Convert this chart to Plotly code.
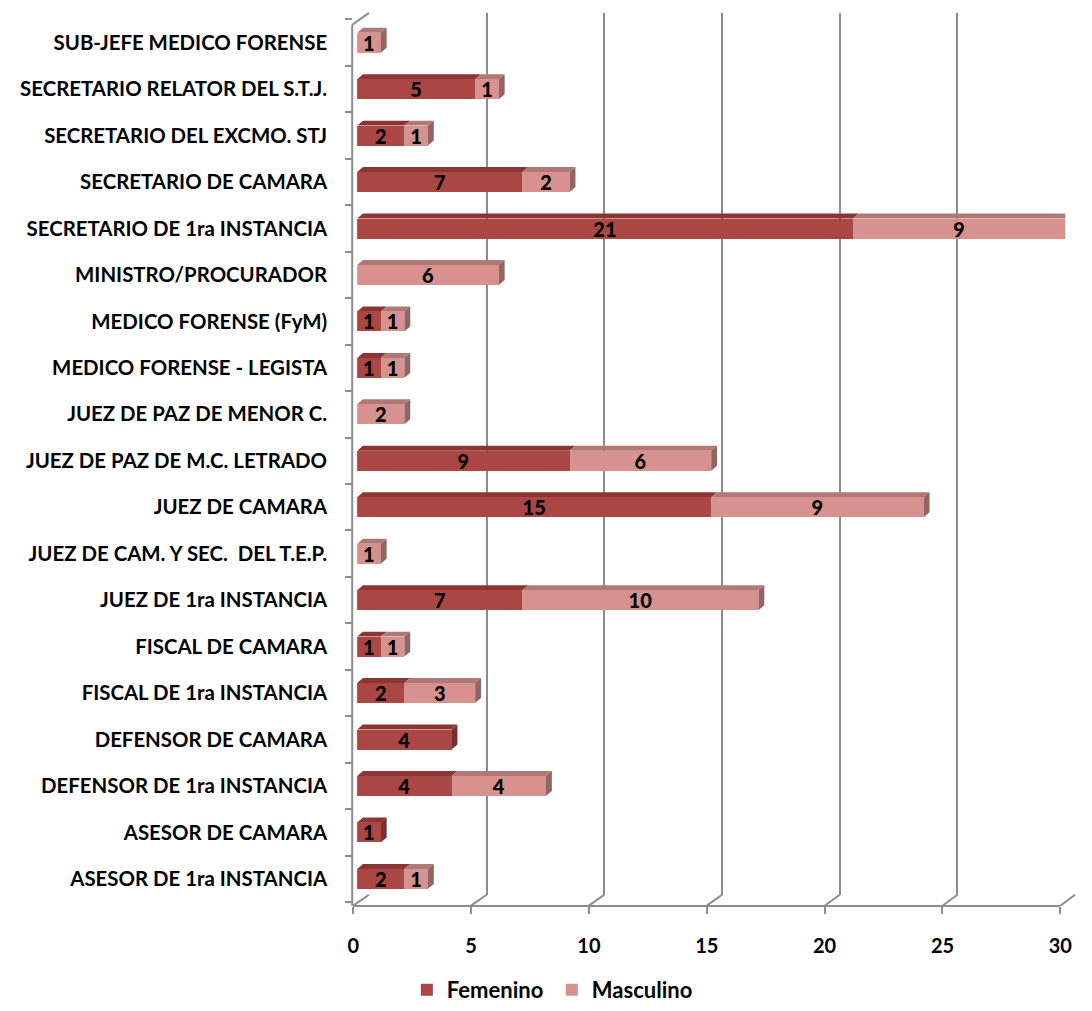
import plotly.graph_objects as go

# ---------------- data ----------------
categories = [
    "ASESOR DE 1ra INSTANCIA",
    "ASESOR DE CAMARA",
    "DEFENSOR DE 1ra INSTANCIA",
    "DEFENSOR DE CAMARA",
    "FISCAL DE 1ra INSTANCIA",
    "FISCAL DE CAMARA",
    "JUEZ DE 1ra INSTANCIA",
    "JUEZ DE CAM. Y SEC.  DEL T.E.P.",
    "JUEZ DE CAMARA",
    "JUEZ DE PAZ DE M.C. LETRADO",
    "JUEZ DE PAZ DE MENOR C.",
    "MEDICO FORENSE - LEGISTA",
    "MEDICO FORENSE (FyM)",
    "MINISTRO/PROCURADOR",
    "SECRETARIO DE 1ra INSTANCIA",
    "SECRETARIO DE CAMARA",
    "SECRETARIO DEL EXCMO. STJ",
    "SECRETARIO RELATOR DEL S.T.J.",
    "SUB-JEFE MEDICO FORENSE",
]
femenino = [2, 1, 4, 4, 2, 1, 7, None, 15, 9, None, 1, 1, None, 21, 7, 2, 5, None]
masculino = [1, None, 4, None, 3, 1, 10, 1, 9, 6, 2, 1, 1, 6, 9, 2, 1, 1, 1]
x_ticks = [0, 5, 10, 15, 20, 25, 30]
series_names = ["Femenino", "Masculino"]

# ---------------- styling ----------------
W, H = 1092, 1011
FONT = "Lato"
GRID = "#8c8c8c"
COL_F = "#AA4644"
COL_F_TOP = "#8C3634"
COL_F_SIDE = "#7A2E2C"
COL_M = "#D7918F"
COL_M_TOP = "#B07877"
COL_M_SIDE = "#946362"


def fx(p):
    return min(1.0, max(0.0, p / W))


def fy(p):
    return min(1.0, max(0.0, 1 - p / H))


XMAX = 30
idx = list(range(len(categories)))
BAR_W = 0.43
grid_dom = [fx(369), fx(1087)]
bar_dom = [fx(357), fx(1077)]
front_dom = [fx(353), fx(1072)]
bar_ydom = [fy(908.4), fy(19.6)]
front_y = fy(912)
back_bottom = fy(901)
back_top = fy(13)

# depth offsets in data units of the bar subplot
px_per_x = (bar_dom[1] - bar_dom[0]) * W / XMAX
px_per_y = (bar_ydom[1] - bar_ydom[0]) * H / len(categories)
DX = 6 / px_per_x
DY = 5 / px_per_y

fig = go.Figure()

# dummy trace to hold the back-plane grid subplot
fig.add_trace(go.Scatter(x=[0], y=[0], xaxis="x", yaxis="y", mode="markers",
                         marker=dict(opacity=0), showlegend=False, hoverinfo="skip"))

cat_font = dict(family=FONT, size=20.4, color="black", weight="bold")
num_font = dict(family=FONT, size=20, color="black", weight=900)
tick_font = dict(family=FONT, size=20, color="black", weight="bold")
leg_font = dict(family=FONT, size=22, color="black", weight="bold")

for name, vals, col in [(series_names[0], femenino, COL_F), (series_names[1], masculino, COL_M)]:
    fig.add_trace(go.Bar(
        name=name, orientation="h", y=idx, x=vals, width=BAR_W,
        xaxis="x2", yaxis="y2",
        marker=dict(color=col, line=dict(width=0)),
        text=[("" if v is None else str(v)) for v in vals],
        textposition="inside", insidetextanchor="middle", textangle=0,
        textfont=num_font, cliponaxis=False, hoverinfo="skip",
    ))

# dummy trace for the front axis
fig.add_trace(go.Scatter(x=[0], y=[0], xaxis="x3", yaxis="y2", mode="markers",
                         marker=dict(opacity=0), showlegend=False, hoverinfo="skip"))

# 3D faces of the bars (computed from data)
shapes = []
for i in idx:
    start = 0.0
    segs = []
    for vals, top, side in [(femenino, COL_F_TOP, COL_F_SIDE), (masculino, COL_M_TOP, COL_M_SIDE)]:
        v = vals[i]
        if v:
            segs.append((start, start + v, top, side))
            start += v
    yt = i + BAR_W / 2
    yb = i - BAR_W / 2
    for a, b, top, side in segs:
        path = f"M {a},{yt} L {b},{yt} L {b+DX},{yt+DY} L {a+DX},{yt+DY} Z"
        shapes.append(dict(type="path", path=path, xref="x2", yref="y2",
                           fillcolor=top, line=dict(width=0), layer="below"))
    if segs:
        a, b, top, side = segs[-1]
        path = f"M {b},{yb} L {b},{yt} L {b+DX},{yt+DY} L {b+DX},{yb+DY} Z"
        shapes.append(dict(type="path", path=path, xref="x2", yref="y2",
                           fillcolor=side, line=dict(width=0), layer="below"))

# wall/floor connectors (derived from axis domains)
for v in x_ticks:
    xf = front_dom[0] + (front_dom[1] - front_dom[0]) * v / XMAX
    xb = grid_dom[0] + (grid_dom[1] - grid_dom[0]) * v / XMAX
    shapes.append(dict(type="line", xref="paper", yref="paper", x0=xf, y0=front_y,
                       x1=xb, y1=back_bottom, line=dict(color=GRID, width=2)))
# left wall edge
shapes.append(dict(type="line", xref="paper", yref="paper", x0=fx(352), y0=front_y,
                   x1=fx(352), y1=fy(25), line=dict(color=GRID, width=2)))
shapes.append(dict(type="line", xref="paper", yref="paper", x0=fx(352), y0=fy(25),
                   x1=grid_dom[0], y1=back_top, line=dict(color=GRID, width=2)))

fig.update_layout(
    width=W, height=H,
    margin=dict(l=0, r=0, t=0, b=0),
    paper_bgcolor="white", plot_bgcolor="rgba(0,0,0,0)",
    barmode="stack",
    showlegend=True,
    hovermode=False,
    uniformtext=dict(minsize=20, mode="show"),
    shapes=shapes,
    xaxis=dict(domain=grid_dom, range=[0, XMAX], anchor="y", showgrid=True,
               gridcolor=GRID, gridwidth=2, tickvals=x_ticks, showticklabels=False,
               ticks="", zeroline=False, showline=False, fixedrange=True),
    yaxis=dict(domain=[back_bottom, back_top], range=[0, 1], anchor="x", visible=False),
    xaxis2=dict(domain=bar_dom, range=[0, XMAX], anchor="y2", visible=False),
    yaxis2=dict(domain=bar_ydom, range=[-0.5, len(categories) - 0.5], anchor="free",
                position=fx(352), tickmode="array", tickvals=idx, ticktext=categories,
                ticks="outside", ticklen=21, tickcolor="rgba(0,0,0,0)",
                tickfont=cat_font, showgrid=False, zeroline=False, showline=False,
                minor=dict(tickmode="array", tickvals=[i - 0.5 for i in range(len(categories) + 1)],
                           ticks="outside", ticklen=7, tickcolor=GRID, tickwidth=2,
                           showgrid=False)),
    xaxis3=dict(domain=front_dom, range=[0, XMAX], anchor="free", position=front_y,
                tickmode="array", tickvals=x_ticks, ticks="outside", ticklen=7,
                tickcolor=GRID, tickwidth=2, showline=True, linecolor=GRID, linewidth=2,
                showgrid=False, zeroline=False, tickfont=tick_font, ticklabelstandoff=15),
    legend=dict(orientation="h", x=fx(555), xanchor="center", y=fy(997), yanchor="middle",
                font=leg_font, entrywidth=100, traceorder="normal",
                itemclick=False, itemdoubleclick=False),
)

fig.write_html(
    "out.html",
    config={"displayModeBar": False, "staticPlot": True},
    post_script="document.body.style.margin='0';document.body.style.overflow='hidden';",
)
